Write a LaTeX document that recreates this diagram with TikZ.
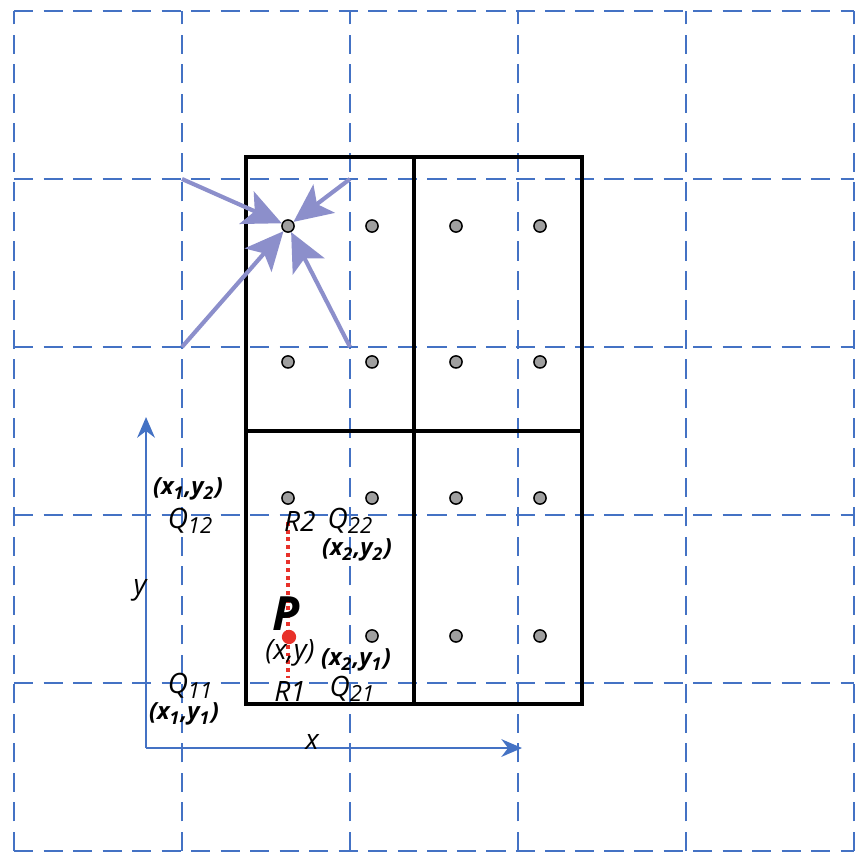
\documentclass[tikz,border=0pt]{standalone}
\usepackage{fontspec}
\setmainfont{Open Sans}
\usepackage{tikz}
\usetikzlibrary{arrows.meta}
\definecolor{gridblue}{HTML}{4472C4}
\definecolor{arrowlav}{HTML}{8C8FCB}
\definecolor{pointred}{HTML}{E8312A}
\tikzset{>={Stealth[length=7pt,width=6pt]}}
\newcommand{\qsub}[1]{\raisebox{-0.35ex}{\fontsize{7.5}{8}\selectfont #1}}
\tikzset{
    gridline/.style={draw=gridblue,line width=0.7pt,dash pattern=on 6.5pt off 3.5pt},
    cellbox/.style={draw=black,line width=1.4pt},
    sample/.style={circle,draw=black,fill=gray!75,line width=0.5pt,minimum size=0.145cm,inner sep=0pt},
    target/.style={circle,fill=pointred,minimum size=0.17cm,inner sep=0pt},
    weight/.style={draw=arrowlav,line width=1.4pt,-{Stealth[length=13pt,width=12pt,inset=3pt]}},
    axis/.style={draw=gridblue,line width=0.7pt,->},
    interp/.style={draw=pointred,line width=1.3pt,dash pattern=on 1.3pt off 1.3pt},
    lbl/.style={font=\fontsize{9.5}{11}\selectfont\itshape,inner sep=0pt},
    coord/.style={font=\fontsize{8}{9}\selectfont\bfseries\itshape,inner sep=0pt},
}

\begin{document}
\begin{tikzpicture}[x=2cm,y=2cm]
	\useasboundingbox (-0.0833,-0.0655) rectangle (5.0833,5.0655);
	% dashed grid
	\draw[gridline] (0,0) grid[step=2cm] (5,5);

	% cells
	\draw[cellbox] (1.381,0.875) rectangle (3.381,4.131);
	\draw[cellbox] (2.381,0.875) -- (2.381,4.131);
	\draw[cellbox] (1.381,2.5) -- (3.381,2.5);

	% sample points
	\node[sample] (c11) at (1.631,3.720) {};
	\node[sample] (c21) at (2.131,3.720) {};
	\node[sample] (c31) at (2.631,3.720) {};
	\node[sample] (c41) at (3.131,3.720) {};
	\node[sample] (c12) at (1.631,2.911) {};
	\node[sample] (c22) at (2.131,2.911) {};
	\node[sample] (c32) at (2.631,2.911) {};
	\node[sample] (c42) at (3.131,2.911) {};
	\node[sample] (c13) at (1.631,2.101) {};
	\node[sample] (c23) at (2.131,2.101) {};
	\node[sample] (c33) at (2.631,2.101) {};
	\node[sample] (c43) at (3.131,2.101) {};
	\node[sample] (c24) at (2.131,1.280) {};
	\node[sample] (c34) at (2.631,1.280) {};
	\node[sample] (c44) at (3.131,1.280) {};

	% grid corners weighting the sample
	\coordinate (g1) at (1,4);
	\coordinate (g2) at (2,4);
	\coordinate (g3) at (1,3);
	\coordinate (g4) at (2,3);
	\draw[weight] (g1) to (c11);
	\draw[weight] (g2) to (c11);
	\draw[weight] (g3) to (c11);
	\draw[weight] (g4) to (c11);

	% axes
	\coordinate (o) at (0.786,0.613);
	\coordinate (ytip) at (0.786,2.583);
	\coordinate (xtip) at (3.024,0.613);
	\draw[axis] (o) to (ytip);
	\draw[axis] (o) to (xtip);
	\node[lbl] (xl) at (1.774,0.649) {x};
	\node[lbl] (yl) at (0.75,1.554) {y};

	% interpolated point
	\coordinate (r2) at (1.631,1.958);
	\coordinate (r1) at (1.631,1.030);
	\draw[interp] (r2) to (r1);
	\node[target] (p) at (1.637,1.274) {};
	\node[font=\fontsize{16}{17}\selectfont\bfseries\itshape,inner sep=0pt] (pl) at (1.619,1.41) {P};
	\node[lbl] (pxy) at (1.643,1.180) {(x,y)};

	% labels
	\node[coord] (q12c) at (1.036,2.155) {(x\textsubscript{1},y\textsubscript{2})};
	\node[lbl] (q12) at (1.048,1.964) {Q\qsub{12}};
	\node[lbl] (r2l) at (1.702,1.964) {R2};
	\node[lbl] (q22) at (2.0,1.964) {Q\qsub{22}};
	\node[coord] (q22c) at (2.042,1.792) {(x\textsubscript{2},y\textsubscript{2})};
	\node[coord] (q21c) at (2.036,1.137) {(x\textsubscript{2},y\textsubscript{1})};
	\node[lbl] (q11) at (1.048,0.982) {Q\qsub{11}};
	\node[lbl] (r1l) at (1.643,0.952) {R1};
	\node[lbl] (q21) at (2.012,0.964) {Q\qsub{21}};
	\node[coord] (q11c) at (1.012,0.815) {(x\textsubscript{1},y\textsubscript{1})};
\end{tikzpicture}
\end{document}
